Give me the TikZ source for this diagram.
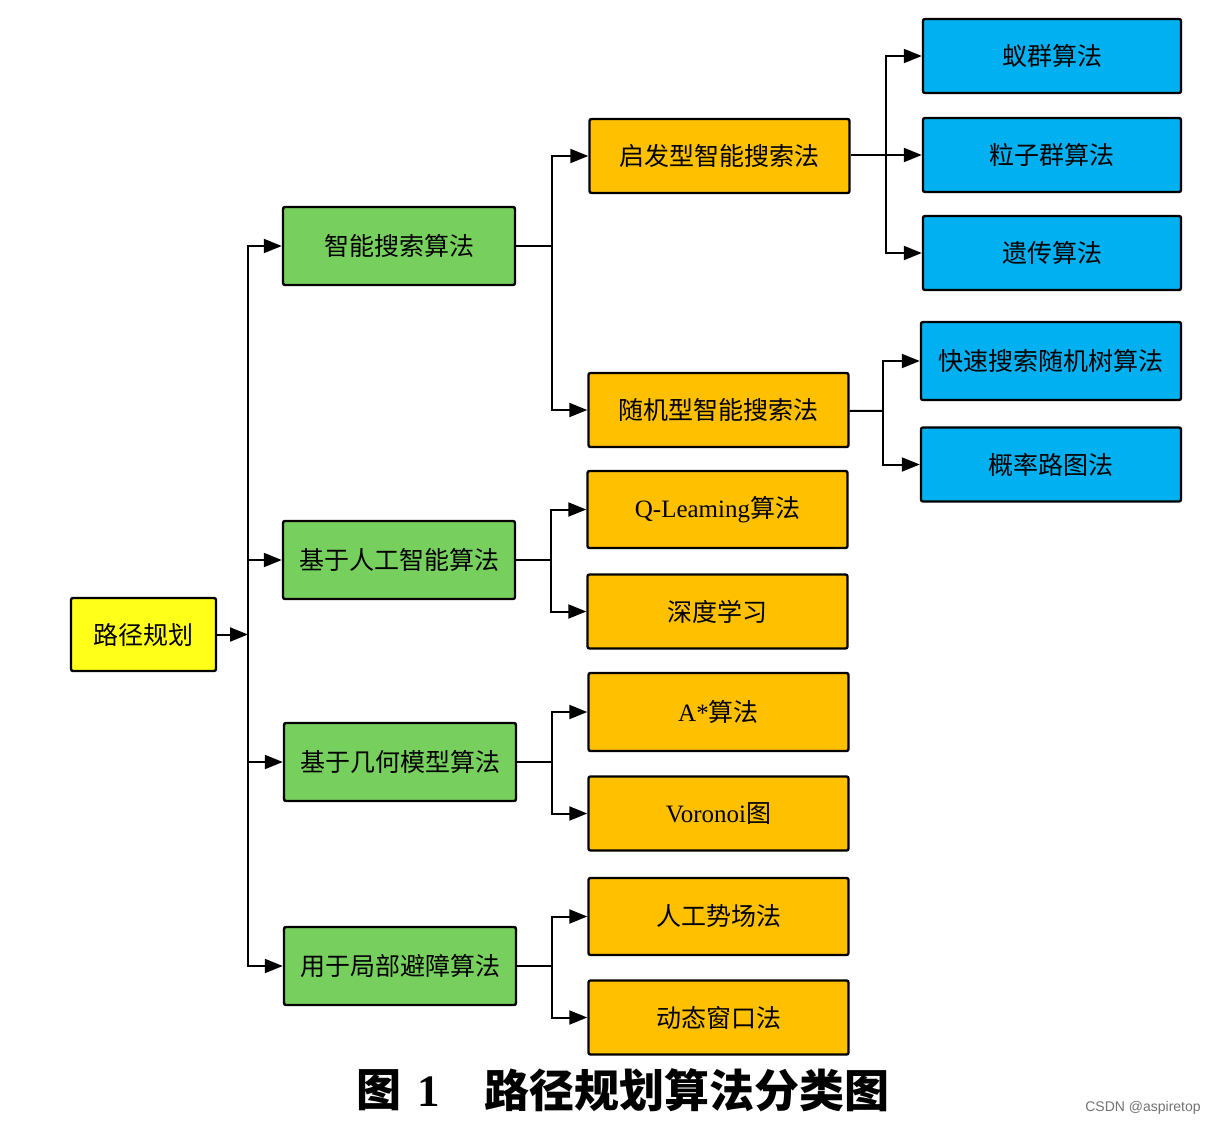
\documentclass[tikz,border=0pt]{standalone}
\usepackage{fontspec}
\setmainfont{Liberation Serif}
\setsansfont{Liberation Sans}
\newfontfamily\cjk{Noto Sans CJK SC}
\usetikzlibrary{arrows.meta}
\definecolor{cyel}{HTML}{FFFF1A}
\definecolor{cgrn}{HTML}{77D05E}
\definecolor{corg}{HTML}{FFC000}
\definecolor{cblu}{HTML}{00B0F0}
\begin{document}
\begin{tikzpicture}[x=0.5pt,y=-0.5pt,
  box/.style={draw=black, line width=1.2pt, rounded corners=1pt, inner sep=0pt,
    font=\fontsize{12.5}{14}\selectfont\cjk, text=black, align=center},
  rootbox/.style={box, fill=cyel, minimum width=72.5pt, minimum height=36.5pt},
  gbox/.style={box, fill=cgrn, minimum width=116pt, minimum height=39pt},
  obox/.style={box, fill=corg, minimum width=130pt, minimum height=37pt},
  bbox/.style={box, fill=cblu, minimum width=129pt, minimum height=37pt},
  ln/.style={line width=1pt},
  arr/.style={line width=1pt, -{Triangle[length=9pt,width=7pt]}}]
\useasboundingbox (0,0) rectangle (1217,1125);
\fill[white] (0,0) rectangle (1217,1125);

% nodes
\node[rootbox] (root) at (143.5,634.5) {路径规划};

\node[gbox] (g1) at (399,246) {智能搜索算法};
\node[gbox] (g2) at (399,560) {基于人工智能算法};
\node[gbox] (g3) at (400,762) {基于几何模型算法};
\node[gbox] (g4) at (400,966) {用于局部避障算法};

\node[obox] (o1) at (719.5,156) {启发型智能搜索法};
\node[obox] (o2) at (718.5,410) {随机型智能搜索法};
\node[obox, minimum height=38.5pt] (o3) at (717.5,509.5) {{\rmfamily Q-Leaming}算法};
\node[obox] (o4) at (717.5,611.5) {深度学习};
\node[obox, minimum height=39pt] (o5) at (718.5,712) {{\rmfamily A*}算法};
\node[obox] (o6) at (718.5,813.5) {{\rmfamily Voronoi}图};
\node[obox, minimum height=38.5pt] (o7) at (718.5,916.5) {人工势场法};
\node[obox] (o8) at (718.5,1017.5) {动态窗口法};

\node[bbox] (b1) at (1052,56) {蚁群算法};
\node[bbox] (b2) at (1052,155) {粒子群算法};
\node[bbox] (b3) at (1052,253) {遗传算法};
\node[bbox, minimum width=130pt, minimum height=39pt] (b4) at (1051,361) {快速搜索随机树算法};
\node[bbox, minimum width=130pt] (b5) at (1051,464.5) {概率路图法};

% junction coordinates
\coordinate (t0) at (248,634.5);
\coordinate (j1) at (552,246);
\coordinate (j2) at (551,560);
\coordinate (j3) at (552,762);
\coordinate (j4) at (552,966);
\coordinate (k1) at (886,155);
\coordinate (k2) at (883,411);

% connectors
\draw[arr] (root) -- (t0);
\draw[arr] (t0) |- (g1);
\draw[arr] (t0) |- (g2);
\draw[arr] (t0) |- (g3);
\draw[arr] (t0) |- (g4);

\draw[ln] (g1) -- (j1);
\draw[arr] (j1) |- (o1);
\draw[arr] (j1) |- (o2);
\draw[ln] (g2) -- (j2);
\draw[arr] (j2) |- (o3);
\draw[arr] (j2) |- (o4);
\draw[ln] (g3) -- (j3);
\draw[arr] (j3) |- (o5);
\draw[arr] (j3) |- (o6);
\draw[ln] (g4) -- (j4);
\draw[arr] (j4) |- (o7);
\draw[arr] (j4) |- (o8);

\draw[ln] (o1.east |- k1) -- (k1);
\draw[arr] (k1) |- (b1);
\draw[arr] (k1) -- (b2);
\draw[arr] (k1) |- (b3);
\draw[ln] (o2) -- (k2);
\draw[arr] (k2) |- (b4);
\draw[arr] (k2) |- (b5);

% caption
\node[font=\fontsize{22.5}{26}\selectfont\bfseries, anchor=center] (cap1) at (398,1090) {{\cjk 图}\hspace{8pt}1};
\node[font=\fontsize{22.5}{26}\selectfont\cjk\bfseries, anchor=center] (cap2) at (687,1090) {路径规划算法分类图};
\node[font=\sffamily\fontsize{7}{8}\selectfont, text=black!55, anchor=center] (wm) at (1143,1108) {CSDN @aspiretop};
\end{tikzpicture}
\end{document}
